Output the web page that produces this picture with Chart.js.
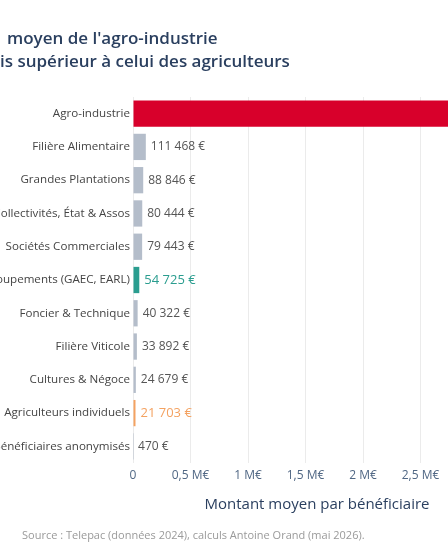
<!DOCTYPE html>
<html>
<head>
<meta charset="utf-8">
<script src="https://cdn.jsdelivr.net/npm/chart.js@4.4.1/dist/chart.umd.min.js"></script>
<style>
  html, body { margin: 0; padding: 0; background: #fff; width: 448px; height: 560px; overflow: hidden; position: relative; font-family: "Open Sans", sans-serif; }
  #wrap { position: absolute; left: -100px; top: 0; width: 620px; height: 560px; }
  .title { position: absolute; font-size: 17px; font-weight: 600; color: #2a3f5f; white-space: nowrap; line-height: 22px; }
  #source { position: absolute; left: 22px; top: 527px; font-size: 11px; color: #9a9a9a; white-space: nowrap; }
</style>
</head>
<body>
<div id="wrap"><canvas id="barChart"></canvas></div>
<div class="title" style="left:7px; top:27px;">moyen de l'agro-industrie</div>
<div class="title" style="left:0px; top:50px;">is supérieur à celui des agriculteurs</div>
<div id="source">Source : Telepac (données 2024), calculs Antoine Orand (mai 2026).</div>
<script>
// Montant moyen par bénéficiaire (€)
const categories = ['Agro-industrie', 'Filière Alimentaire', 'Grandes Plantations', 'Collectivités, État & Assos',
    'Sociétés Commerciales', 'Regroupements (GAEC, EARL)', 'Foncier & Technique', 'Filière Viticole',
    'Cultures & Négoce', 'Agriculteurs individuels', 'Bénéficiaires anonymisés'];
const values = [3050000, 111468, 88846, 80444, 79443, 54725, 40322, 33892, 24679, 21703, 470];
const barColors = ['#d8002b', '#b4bdca', '#b4bdca', '#b4bdca', '#b4bdca', '#2a9d8f', '#b4bdca', '#b4bdca', '#b4bdca', '#f4a261', '#b4bdca'];
const labelColors = ['#555555', '#555555', '#555555', '#555555', '#555555', '#2a9d8f', '#555555', '#555555', '#555555', '#f4a261', '#555555'];
const tickValues = [0, 500000, 1000000, 1500000, 2000000, 2500000, 3000000];
const tickLabels = ['0', '0,5 M€', '1 M€', '1,5 M€', '2 M€', '2,5 M€', '3 M€'];

function fmt(v) {
    return String(v).replace(/\B(?=(\d{3})+(?!\d))/g, ' ') + ' €';
}

// value labels at the end of each bar
const valueLabels = {
    id: 'valueLabels',
    afterDatasetsDraw(chart) {
        const ctx = chart.ctx;
        const meta = chart.getDatasetMeta(0);
        ctx.save();
        ctx.textBaseline = 'middle';
        ctx.textAlign = 'left';
        meta.data.forEach((bar, i) => {
            const big = i === 5 || i === 9;
            ctx.font = (big ? '13px' : '12px') + ' "Open Sans"';
            ctx.fillStyle = labelColors[i];
            ctx.fillText(fmt(values[i]), bar.x + 5, bar.y);
        });
        ctx.restore();
    }
};

const ctx1 = document.getElementById('barChart').getContext('2d');
new Chart(ctx1, {
    type: 'bar',
    data: {
        labels: categories,
        datasets: [{
            data: values,
            backgroundColor: barColors,
            borderWidth: 0,
            barPercentage: 0.79,
            categoryPercentage: 1
        }]
    },
    options: {
        indexAxis: 'y',
        responsive: true,
        maintainAspectRatio: false,
        animation: false,
        layout: { padding: { top: 97, right: 19, bottom: 0, left: 0 } },
        plugins: { legend: { display: false }, tooltip: { enabled: false } },
        scales: {
            x: {
                min: 0,
                max: 3200000,
                afterBuildTicks(scale) {
                    scale.ticks = tickValues.map(v => ({ value: v }));
                },
                afterFit(scale) { scale.height = 97; },
                grid: { color: '#ebebeb', lineWidth: 1, drawTicks: false },
                border: { display: false },
                ticks: {
                    padding: 5,
                    color: '#506784',
                    font: { family: 'Open Sans', size: 12 },
                    callback: (v, i) => tickLabels[i]
                },
                title: {
                    display: true,
                    text: 'Montant moyen par bénéficiaire',
                    color: '#2a3f5f',
                    font: { family: 'Open Sans', size: 15 },
                    padding: { top: 0, bottom: 46 }
                }
            },
            y: {
                afterFit(scale) { scale.width = 233; },
                grid: { display: false, drawTicks: false },
                border: { display: false },
                ticks: {
                    padding: 3,
                    color: '#444444',
                    font: { family: 'Open Sans', size: 11.6 }
                }
            }
        }
    },
    plugins: [valueLabels]
});
</script>
</body>
</html>
